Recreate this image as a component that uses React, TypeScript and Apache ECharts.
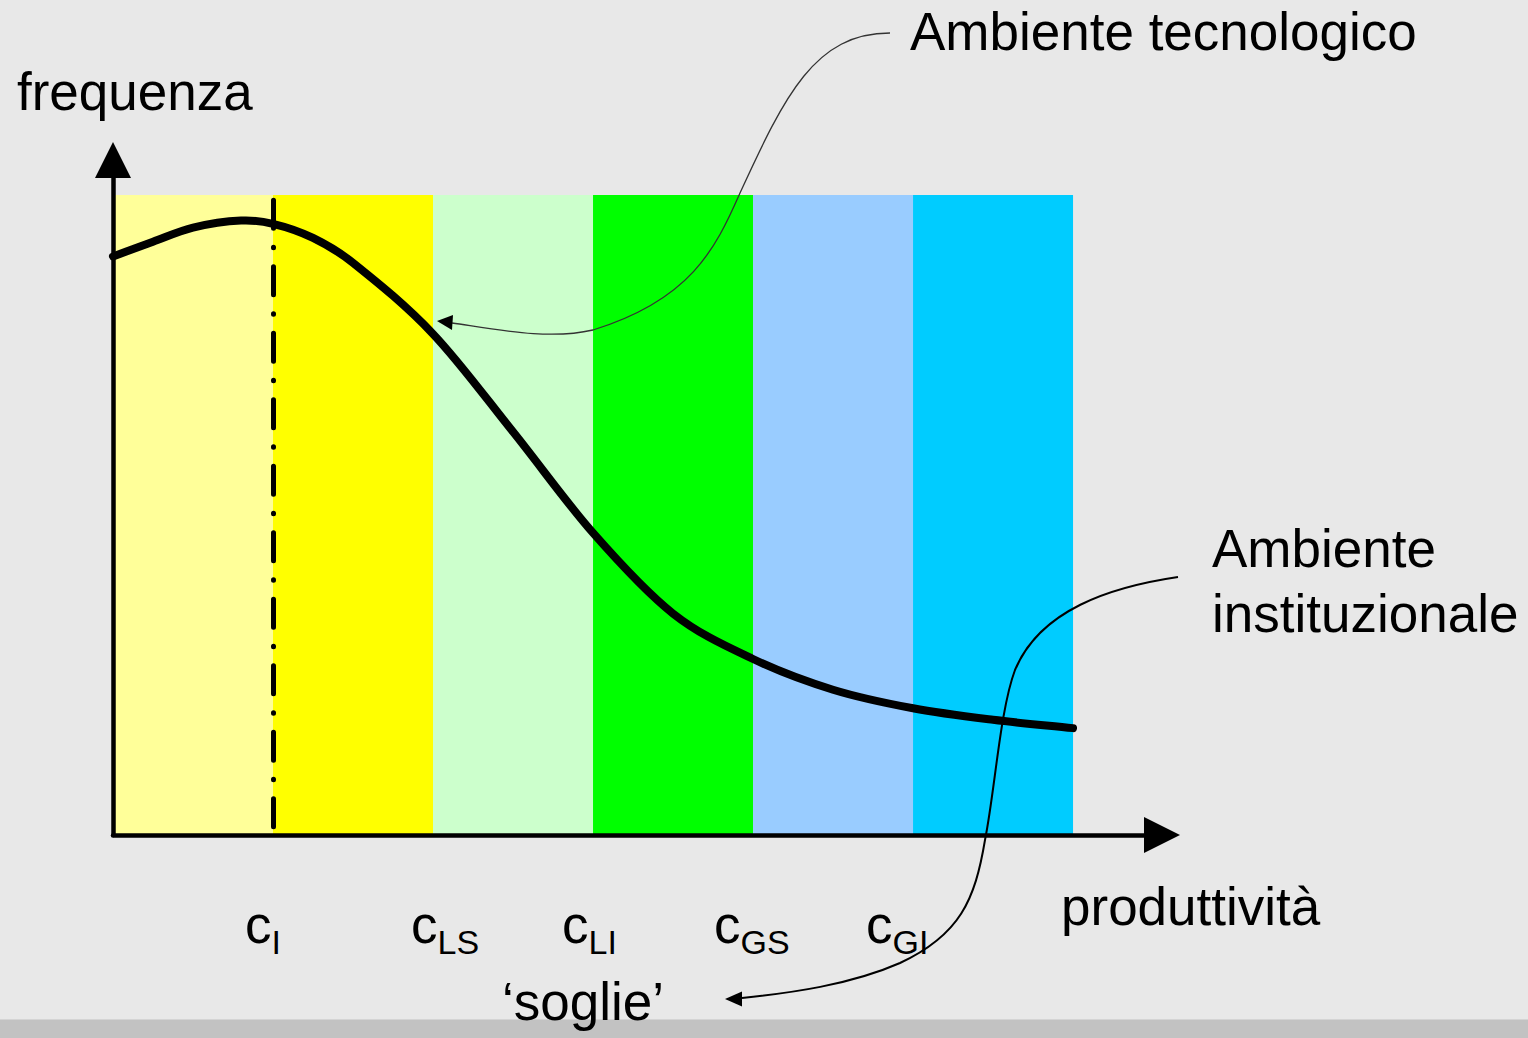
import React, { useEffect, useRef } from 'react';
import * as echarts from 'echarts';

// ---- data ----
const bandStarts = [0, 1, 2, 3, 4, 5];
const bandColors = ['#ffff99', '#ffff00', '#ccffcc', '#00ff00', '#99ccff', '#00ccff'];
const bandTop = 100;
const curveX = [0, 0.25, 0.5, 0.8, 1, 1.25, 1.5, 2, 2.5, 3, 3.5, 4, 4.5, 5, 5.5, 6];
const curveY = [90.4, 92.7, 94.9, 96.0, 95.5, 93.3, 89.4, 78.3, 63.0, 47.2, 34.6, 27.5, 22.7, 19.8, 18.0, 16.7];
const thresholdLineX = 1;
const thresholdLineTop = 99.2;
const thresholdMain = 'c';
const thresholdSubs = ['I', 'LS', 'LI', 'GS', 'GI'];
const yAxisTitle = 'frequenza';
const xAxisTitle = 'produttività';
const tecLabel = 'Ambiente tecnologico';
const instLabel = ['Ambiente', 'instituzionale'];
const sogliaLabel = '\u2018soglie\u2019';

const X_MAX = 6.556;
const Y_MAX = 105.47;

const FONT = '"Liberation Sans", Arial, Helvetica, sans-serif';

echarts.graphic.registerShape(
  'tecCurve',
  echarts.graphic.extendPath(
    'M890,33 C815,33 785,95 740,193 C715,250 690,300 593,330 C550,340 500,330 452,323',
    {}
  )
);
echarts.graphic.registerShape(
  'instCurve',
  echarts.graphic.extendPath(
    'M1178,577 C1110,587 1040,610 1015,670 C1000,710 995,790 985,840 C975,900 960,935 900,963 C850,985 790,993 742,998',
    {}
  )
);

const labelPos = [245, 411, 562, 714, 866];

function txt(text: string, x: number, baseline: number, size: number) {
  return {
    type: 'text',
    x,
    y: baseline - 0.3465 * size,
    z: 300,
    silent: true,
    style: {
      text,
      fill: '#000',
      fontSize: size,
      fontFamily: FONT,
      verticalAlign: 'middle',
      align: 'left',
    },
  };
}

// smooth path (Hermite with finite-difference tangents) through pixel points
function smoothPath(pts: number[][]): string {
  const n = pts.length;
  const m: number[] = [];
  for (let i = 0; i < n; i++) {
    const a = pts[Math.max(0, i - 1)];
    const b = pts[Math.min(n - 1, i + 1)];
    m.push((b[1] - a[1]) / (b[0] - a[0]));
  }
  let d = `M${pts[0][0]},${pts[0][1]}`;
  for (let i = 0; i < n - 1; i++) {
    const p = pts[i];
    const q = pts[i + 1];
    const h = q[0] - p[0];
    d += ` C${p[0] + h / 3},${p[1] + (m[i] * h) / 3} ${q[0] - h / 3},${q[1] - (m[i + 1] * h) / 3} ${q[0]},${q[1]}`;
  }
  return d;
}

export default function App() {
  const ref = useRef<HTMLDivElement>(null);
  useEffect(() => {
    if (!ref.current) return;
    const chart = echarts.init(ref.current, null, { renderer: 'svg' });

    const graphics: any[] = [];
    // bottom strip
    graphics.push({
      type: 'rect',
      z: 200,
      silent: true,
      shape: { x: 0, y: 1019, width: 1528, height: 19 },
      style: { fill: '#c2c2c2' },
    });
    graphics.push({
      type: 'line',
      z: 201,
      silent: true,
      shape: { x1: 0, y1: 1019.5, x2: 1528, y2: 1019.5 },
      style: { stroke: '#d4d4d4', lineWidth: 1 },
    });
    graphics.push(txt(yAxisTitle, 17, 110, 53));
    graphics.push(txt(tecLabel, 910, 50, 53));
    graphics.push(txt(instLabel[0], 1212, 567, 53));
    graphics.push(txt(instLabel[1], 1212, 632, 53));
    graphics.push(txt(xAxisTitle, 1061, 925, 53));
    graphics.push(txt(sogliaLabel, 502, 1020, 53));
    thresholdSubs.forEach((s, i) => {
      graphics.push(txt(thresholdMain, labelPos[i], 943, 53));
      graphics.push(txt(s, labelPos[i] + 26.5, 954, 34));
    });
    graphics.push({
      type: 'tecCurve',
      x: 0,
      y: 0,
      z: 110,
      silent: true,
      style: { fill: 'none', stroke: '#333', lineWidth: 1.3 },
    });
    graphics.push({
      type: 'polygon',
      z: 110,
      silent: true,
      shape: { points: [[437, 321], [453, 315], [452, 330]] },
      style: { fill: '#000' },
    });
    graphics.push({
      type: 'instCurve',
      x: 0,
      y: 0,
      z: 110,
      silent: true,
      style: { fill: 'none', stroke: '#000', lineWidth: 2 },
    });
    graphics.push({
      type: 'polygon',
      z: 110,
      silent: true,
      shape: { points: [[725, 999], [742, 991.5], [742, 1006.5]] },
      style: { fill: '#000' },
    });

    const axisCommon = {
      type: 'value',
      z: 10,
      axisLine: {
        show: true,
        lineStyle: { color: '#000', width: 4.5 },
        symbol: ['none', 'triangle'],
        symbolSize: [36, 36],
      },
      axisTick: { show: false },
      axisLabel: { show: false },
      splitLine: { show: false },
    };

    chart.setOption({
      animation: false,
      backgroundColor: '#e8e8e8',
      grid: { left: 113, right: 1528 - 1162, top: 160, bottom: 1038 - 835 },
      xAxis: { ...axisCommon, min: 0, max: X_MAX },
      yAxis: { ...axisCommon, min: 0, max: Y_MAX },
      series: [
        {
          type: 'line',
          name: 'bands',
          data: [],
          silent: true,
          z: 1,
          markArea: {
            silent: true,
            data: bandStarts.map((s, i) => [
              { xAxis: s, yAxis: 0, itemStyle: { color: bandColors[i], opacity: 1, borderWidth: 0 } },
              { xAxis: s + 1, yAxis: bandTop },
            ]),
          },
          markLine: {
            silent: true,
            symbol: ['none', 'none'],
            label: { show: false },
            lineStyle: { color: '#000', width: 5, type: [28, 19, 0.5, 19], cap: 'round' },
            data: [[{ coord: [thresholdLineX, thresholdLineTop] }, { coord: [thresholdLineX, 0] }]],
          },
        },
        {
          type: 'custom',
          name: 'frequenza',
          data: [[curveX[0], curveY[0]]],
          silent: true,
          clip: false,
          z: 3,
          renderItem: (params: any, api: any) => {
            const pts = curveX.map((x, i) => api.coord([x, curveY[i]]));
            return {
              type: 'path',
              shape: { pathData: smoothPath(pts) },
              style: { fill: 'none', stroke: '#000', lineWidth: 8, lineCap: 'round', lineJoin: 'round' },
            };
          },
        },
      ],
      graphic: graphics,
    });
    return () => chart.dispose();
  }, []);
  return (
    <div
      ref={ref}
      style={{ position: 'fixed', left: 0, top: 0, width: '1528px', height: '1038px' }}
    />
  );
}
